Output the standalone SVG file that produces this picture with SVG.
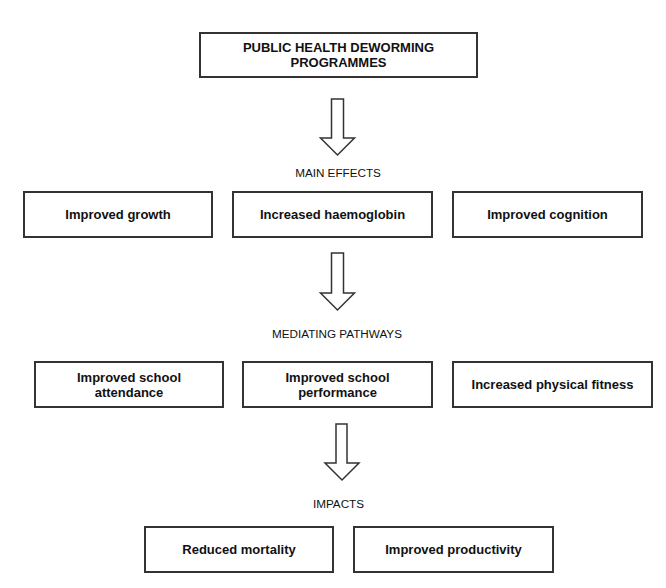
<svg xmlns="http://www.w3.org/2000/svg" width="666" height="588" viewBox="0 0 666 588">
<style>
.box{fill:#fff;stroke:#333;stroke-width:2}
.t{font-family:"Liberation Sans",Arial,sans-serif;font-size:13px;font-weight:bold;fill:#111;text-anchor:middle}
.h{font-family:"Liberation Sans",Arial,sans-serif;font-size:11.7px;fill:#111;text-anchor:middle}
.arr{fill:#fff;stroke:#333;stroke-width:1.5;stroke-linejoin:miter}
</style>
<rect width="666" height="588" fill="#fff"/>
<g id="n-top"><rect class="box" x="200" y="33" width="277" height="44"/><text class="t" x="338.5" y="52">PUBLIC HEALTH DEWORMING</text><text class="t" x="338.5" y="67">PROGRAMMES</text></g>
<text class="h" x="338" y="177">MAIN EFFECTS</text>
<g id="n-growth"><rect class="box" x="24" y="192" width="188" height="45"/><text class="t" x="118" y="219">Improved growth</text></g>
<g id="n-haemo"><rect class="box" x="233" y="192" width="199" height="45"/><text class="t" x="332.5" y="219">Increased haemoglobin</text></g>
<g id="n-cog"><rect class="box" x="453" y="192" width="189" height="45"/><text class="t" x="547.5" y="219">Improved cognition</text></g>
<text class="h" x="337" y="338">MEDIATING PATHWAYS</text>
<g id="n-attend"><rect class="box" x="35" y="362" width="188" height="45"/><text class="t" x="129" y="382">Improved school</text><text class="t" x="129" y="396.5">attendance</text></g>
<g id="n-perf"><rect class="box" x="243" y="362" width="189" height="45"/><text class="t" x="337.5" y="382">Improved school</text><text class="t" x="337.5" y="396.5">performance</text></g>
<g id="n-fit"><rect class="box" x="453" y="362" width="199" height="45"/><text class="t" x="552.5" y="389">Increased physical fitness</text></g>
<text class="h" x="338.5" y="507.5">IMPACTS</text>
<g id="n-mort"><rect class="box" x="145" y="527" width="188" height="45"/><text class="t" x="239" y="554">Reduced mortality</text></g>
<g id="n-prod"><rect class="box" x="354" y="527" width="199" height="45"/><text class="t" x="453.5" y="554">Improved productivity</text></g>
<g id="connectors">
<polygon class="arr" points="331.5,99 343.5,99 343.5,138 354.5,138 337.5,155 320.5,138 331.5,138"/>
<polygon class="arr" points="331.5,253 343.5,253 343.5,293 354.5,293 337.5,310 320.5,293 331.5,293"/>
<polygon class="arr" points="336,424 347,424 347,463 359,463 342,480 325,463 336,463"/>
</g>
</svg>
